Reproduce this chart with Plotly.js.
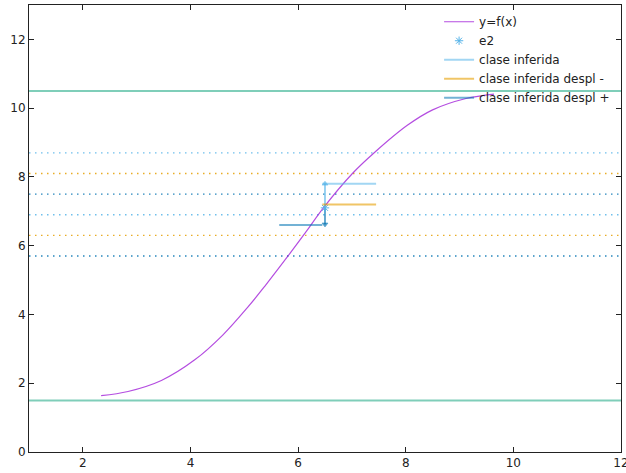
<!DOCTYPE html>
<html>
<head>
<meta charset="utf-8">
<script src="https://cdn.plot.ly/plotly-3.0.1.min.js"></script>
<style>html,body{margin:0;padding:0;background:#fff;}#chart{width:626px;height:473px;}</style>
</head>
<body>
<div id="chart"></div>
<script>
// Curve y=f(x)
const curveX = [2.34, 2.84, 3.46, 4.08, 4.60, 5.07, 5.38, 5.86, 6.16, 6.46, 7.01, 7.42, 8.03, 8.50, 9.12, 9.64];
const curveY = [1.64, 1.76, 2.08, 2.68, 3.40, 4.22, 4.82, 5.80, 6.43, 7.08, 8.10, 8.71, 9.50, 9.95, 10.28, 10.41];

// Limits (green lines)
const limitLevels = [1.5, 10.5];

// Inferred classes
const classNames = ["clase inferida", "clase inferida despl -", "clase inferida despl +"];
const classX0 = [6.45, 6.45, 5.65];
const classX1 = [7.45, 7.45, 6.45];
const classY = [7.8, 7.2, 6.6];
const classLow = [6.9, 6.3, 5.7];
const classHigh = [8.7, 8.1, 7.5];

// e2 point and arrow ends
const e2X = [6.5];
const e2Y = [7.1];
const arrowUpY = [7.1, 7.8];
const arrowDownY = [7.1, 6.62];

const xRange = [1, 12];
const yRange = [0, 13];
const xTicks = [2, 4, 6, 8, 10, 12];
const yTicks = [0, 2, 4, 6, 8, 10, 12];

const classColors = ["rgba(86,180,233,0.55)", "rgba(230,159,0,0.6)", "rgba(0,114,178,0.55)"];
const dotColors = ["#56b4e9", "#e69f00", "#0072b2"];

const traces = [];
limitLevels.forEach(v => traces.push({x: xRange, y: [v, v], mode: 'lines', line: {color: 'rgba(0,158,115,0.5)', width: 2}, showlegend: false, hoverinfo: 'skip'}));
for (let i = 0; i < 3; i++) {
  [classLow[i], classHigh[i]].forEach(v => traces.push({x: xRange, y: [v, v], mode: 'lines', line: {color: dotColors[i], width: 1.3, dash: '1.5px,4.5px'}, opacity: 0.85, showlegend: false, hoverinfo: 'skip'}));
}
traces.push({x: curveX, y: curveY, mode: 'lines', name: 'y=f(x)', line: {color: 'rgba(148,0,211,0.7)', width: 1.2, shape: 'spline', smoothing: 1}});
traces.push({x: [e2X[0], e2X[0]], y: arrowUpY, mode: 'lines+markers', line: {color: 'rgba(86,180,233,0.8)', width: 1.5}, marker: {symbol: 'triangle-up', size: [0, 5], color: '#56b4e9'}, showlegend: false});
traces.push({x: [e2X[0], e2X[0]], y: arrowDownY, mode: 'lines+markers', line: {color: 'rgba(0,114,178,0.8)', width: 1.5}, marker: {symbol: 'triangle-down', size: [0, 5], color: '#0072b2'}, showlegend: false});
traces.push({x: e2X, y: e2Y, mode: 'markers', name: 'e2', marker: {symbol: 'asterisk-open', size: 7, color: '#56b4e9', line: {color: '#56b4e9', width: 1}}});
for (let i = 0; i < 3; i++) {
  traces.push({x: [classX0[i], classX1[i]], y: [classY[i], classY[i]], mode: 'lines', name: classNames[i], line: {color: classColors[i], width: 2}});
}

const axisCommon = {showgrid: false, zeroline: false, showline: true, mirror: 'allticks', ticks: 'inside', ticklen: 5, tickwidth: 1, linecolor: '#222', tickcolor: '#222', linewidth: 1, ticklabeloverflow: 'allow', tickfont: {family: 'DejaVu Sans', size: 12, color: '#222'}};

const layout = {
  width: 626, height: 473,
  margin: {l: 29, r: 5, t: 5, b: 21, pad: 0},
  paper_bgcolor: '#fff', plot_bgcolor: '#fff',
  xaxis: Object.assign({}, axisCommon, {range: [xRange[0], xRange[1] + 0.0005], tickvals: xTicks}),
  yaxis: Object.assign({}, axisCommon, {range: yRange, tickvals: yTicks}),
  legend: {x: 0.99, y: 0.995, xanchor: 'right', yanchor: 'top', bgcolor: 'rgba(255,255,255,0)', font: {family: 'DejaVu Sans', size: 12, color: '#222'}, tracegroupgap: 0, itemwidth: 30},
  showlegend: true
};

Plotly.newPlot('chart', traces, layout, {staticPlot: true, displayModeBar: false});
</script>
</body>
</html>
